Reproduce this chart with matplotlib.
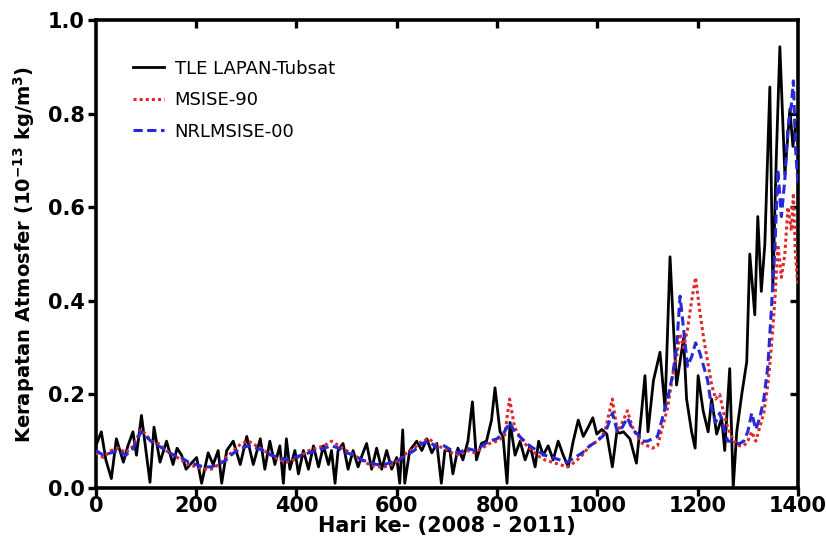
import matplotlib
matplotlib.use('Agg')
import matplotlib.pyplot as plt

# TLE LAPAN-Tubsat derived density (day, 1e-13 kg/m^3)
tle_days = [0, 11, 20, 31, 41, 55, 64, 74, 81, 91, 100, 108, 116, 128, 141, 154, 162, 171, 180, 188,
            201, 211, 224, 234, 244, 251, 261, 274, 288, 301, 314, 328, 337, 347, 357, 367, 374, 380,
            387, 397, 404, 414, 424, 434, 444, 454, 464, 470, 477, 483, 493, 503, 513, 523, 531, 540,
            550, 560, 570, 580, 590, 600, 606, 612, 616, 626, 640, 650, 660, 670, 680, 689, 696, 706,
            712, 722, 732, 742, 751, 759, 769, 779, 789, 796, 806, 812, 820, 826, 836, 846, 856, 866,
            876, 883, 892, 902, 912, 922, 932, 942, 952, 962, 972, 982, 991, 999, 1009, 1019, 1030,
            1039, 1045, 1052, 1065, 1078, 1088, 1095, 1101, 1112, 1125, 1135, 1145, 1152, 1158, 1172,
            1178, 1188, 1195, 1201, 1211, 1221, 1228, 1238, 1248, 1254, 1264, 1271, 1278, 1288, 1298,
            1304, 1314, 1320, 1327, 1334, 1344, 1350, 1357, 1364, 1374, 1384, 1390, 1396]
tle_density = [0.09, 0.12, 0.06, 0.02, 0.105, 0.055, 0.09, 0.12, 0.07, 0.155, 0.08, 0.012, 0.13, 0.055,
               0.1, 0.05, 0.085, 0.07, 0.04, 0.05, 0.065, 0.01, 0.075, 0.05, 0.08, 0.01, 0.08, 0.1,
               0.05, 0.11, 0.05, 0.105, 0.04, 0.1, 0.05, 0.09, 0.01, 0.105, 0.04, 0.08, 0.03, 0.08,
               0.04, 0.09, 0.045, 0.09, 0.05, 0.08, 0.01, 0.08, 0.095, 0.04, 0.08, 0.045, 0.07, 0.095,
               0.04, 0.085, 0.04, 0.08, 0.04, 0.065, 0.01, 0.124, 0.01, 0.08, 0.1, 0.08, 0.105, 0.075,
               0.095, 0.01, 0.08, 0.08, 0.03, 0.085, 0.06, 0.1, 0.184, 0.06, 0.095, 0.1, 0.145, 0.214,
               0.12, 0.11, 0.01, 0.14, 0.07, 0.1, 0.06, 0.09, 0.045, 0.1, 0.07, 0.09, 0.06, 0.1, 0.07,
               0.045, 0.1, 0.145, 0.11, 0.13, 0.15, 0.115, 0.125, 0.115, 0.045, 0.12, 0.117, 0.12,
               0.105, 0.053, 0.16, 0.24, 0.12, 0.23, 0.29, 0.17, 0.494, 0.34, 0.22, 0.32, 0.19, 0.12,
               0.085, 0.24, 0.165, 0.12, 0.19, 0.115, 0.15, 0.08, 0.255, 0.0, 0.12, 0.2, 0.27, 0.5,
               0.37, 0.58, 0.42, 0.52, 0.857, 0.43, 0.71, 0.943, 0.67, 0.81, 0.73, 0.78]

# model outputs share one day grid
model_days = [0, 15, 30, 45, 60, 75, 90, 100, 110, 125, 140, 155, 170, 185, 200, 215, 230, 245, 260,
              275, 290, 305, 320, 335, 350, 365, 380, 395, 410, 425, 440, 455, 470, 485, 500, 515, 530,
              545, 560, 575, 590, 605, 620, 635, 650, 665, 680, 695, 710, 725, 740, 755, 770, 785, 800,
              815, 825, 835, 850, 865, 880, 895, 910, 925, 940, 955, 970, 985, 1000, 1015, 1030, 1040,
              1050, 1060, 1070, 1080, 1090, 1100, 1110, 1120, 1130, 1140, 1150, 1158, 1165, 1172, 1180,
              1188, 1196, 1204, 1212, 1220, 1228, 1236, 1244, 1252, 1260, 1268, 1276, 1284, 1292, 1300,
              1308, 1316, 1324, 1332, 1340, 1347, 1354, 1360, 1367, 1374, 1380, 1387, 1391, 1395, 1400]
nrlmsise00 = [0.08, 0.07, 0.075, 0.08, 0.07, 0.085, 0.12, 0.11, 0.1, 0.09, 0.08, 0.07, 0.065, 0.055,
              0.05, 0.045, 0.045, 0.05, 0.06, 0.075, 0.085, 0.09, 0.085, 0.08, 0.07, 0.065, 0.06, 0.065,
              0.07, 0.075, 0.08, 0.085, 0.09, 0.085, 0.075, 0.07, 0.06, 0.055, 0.05, 0.05, 0.055, 0.06,
              0.07, 0.08, 0.095, 0.1, 0.085, 0.09, 0.08, 0.075, 0.085, 0.08, 0.09, 0.1, 0.105, 0.12,
              0.14, 0.12, 0.105, 0.09, 0.08, 0.07, 0.065, 0.06, 0.055, 0.065, 0.075, 0.09, 0.1, 0.115,
              0.16, 0.12, 0.13, 0.15, 0.125, 0.115, 0.1, 0.1, 0.105, 0.11, 0.15, 0.19, 0.24, 0.30, 0.41,
              0.34, 0.26, 0.28, 0.31, 0.29, 0.26, 0.23, 0.17, 0.14, 0.16, 0.13, 0.1, 0.1, 0.095, 0.095,
              0.1, 0.12, 0.16, 0.125, 0.15, 0.19, 0.26, 0.38, 0.51, 0.68, 0.58, 0.66, 0.77, 0.82, 0.87,
              0.73, 0.65]
msise90 = [0.075, 0.065, 0.08, 0.085, 0.075, 0.09, 0.125, 0.115, 0.1, 0.095, 0.08, 0.07, 0.06, 0.05,
           0.045, 0.04, 0.04, 0.05, 0.065, 0.08, 0.095, 0.1, 0.09, 0.08, 0.07, 0.06, 0.055, 0.06, 0.07,
           0.08, 0.085, 0.09, 0.1, 0.09, 0.08, 0.07, 0.06, 0.05, 0.045, 0.045, 0.05, 0.06, 0.075, 0.085,
           0.1, 0.105, 0.09, 0.085, 0.075, 0.07, 0.08, 0.075, 0.085, 0.095, 0.1, 0.11, 0.19, 0.13, 0.1,
           0.085, 0.07, 0.06, 0.055, 0.05, 0.045, 0.055, 0.07, 0.09, 0.1, 0.12, 0.19, 0.12, 0.14, 0.165,
           0.13, 0.11, 0.095, 0.09, 0.085, 0.09, 0.13, 0.17, 0.24, 0.28, 0.33, 0.3, 0.34, 0.4, 0.45,
           0.38, 0.32, 0.27, 0.22, 0.19, 0.2, 0.16, 0.13, 0.11, 0.095, 0.09, 0.09, 0.1, 0.12, 0.1, 0.13,
           0.16, 0.22, 0.3, 0.4, 0.52, 0.45, 0.5, 0.6, 0.55, 0.63, 0.5, 0.43]

fig = plt.figure(figsize=(8.26, 5.57), dpi=100)
ax = fig.add_axes([0.116, 0.124, 0.85, 0.84])

ax.plot(tle_days, tle_density, color='black', lw=2.0, label='TLE LAPAN-Tubsat', zorder=2)
ax.plot(model_days, msise90, color='#e02828', lw=2.2, ls=(0, (1, 1)), label='MSISE-90', zorder=3)
ax.plot(model_days, nrlmsise00, color='#2828d8', lw=2.2, ls=(0, (3, 1.5)), label='NRLMSISE-00', zorder=4)

ax.set_xlim(0, 1400)
ax.set_ylim(0, 1.0)
ax.set_xticks(range(0, 1401, 200))
ax.set_yticks([0.0, 0.2, 0.4, 0.6, 0.8, 1.0])
ax.set_yticklabels(['0.0', '0.2', '0.4', '0.6', '0.8', '1.0'])

for s in ax.spines.values():
    s.set_linewidth(2.6)
ax.tick_params(axis='both', which='major', direction='out', length=6, width=2.4,
               labelsize=15)
ax.tick_params(axis='x', pad=0)
ax.tick_params(axis='y', pad=2)
for lab in ax.get_xticklabels() + ax.get_yticklabels():
    lab.set_fontweight('bold')

# inward ticks on top and right frame
ax_top = ax.secondary_xaxis('top')
ax_top.set_xticks(range(200, 1400, 200))
ax_top.tick_params(direction='in', length=6, width=2.4, labeltop=False)
ax_right = ax.secondary_yaxis('right')
ax_right.set_yticks([0.2, 0.4, 0.6, 0.8])
ax_right.tick_params(direction='in', length=6, width=2.4, labelright=False)
for sa in (ax_top, ax_right):
    for s in sa.spines.values():
        s.set_visible(False)

ax.set_xlabel('Hari ke- (2008 - 2011)', fontsize=15, fontweight='bold', labelpad=0)
ax.set_ylabel('Kerapatan Atmosfer (10$^{\\mathbf{-13}}$ kg/m$^{\\mathbf{3}}$)', fontsize=14,
              fontweight='bold', labelpad=8)

ax.legend(loc='upper left', bbox_to_anchor=(0.03, 0.95), frameon=False, fontsize=13,
          handlelength=1.7, handletextpad=0.6, labelspacing=0.75)

fig.savefig('out.png', dpi=100)
